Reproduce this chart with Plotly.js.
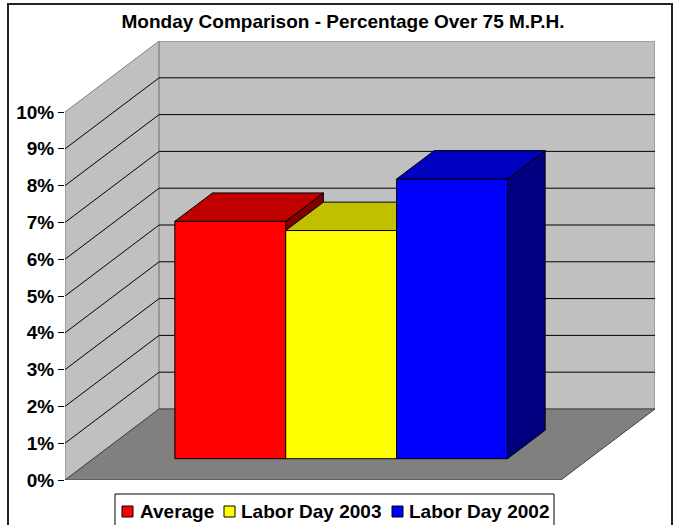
<!DOCTYPE html>
<html>
<head>
<meta charset="utf-8">
<script src="https://cdn.plot.ly/plotly-3.0.1.min.js"></script>
<style>html,body{margin:0;padding:0;background:#fff;}#chart{width:674px;height:525px;}</style>
</head>
<body>
<div id="chart"></div>
<script>
// ---- data ----
var categories = ["Average", "Labor Day 2003", "Labor Day 2002"];
var values = [6.45, 6.2, 7.6];          // percent over 75 mph
var yTicks = [0, 1, 2, 3, 4, 5, 6, 7, 8, 9, 10];
var yTickLabels = ["0%", "1%", "2%", "3%", "4%", "5%", "6%", "7%", "8%", "9%", "10%"];
var frontColors = ["#FF0000", "#FFFF00", "#0000FF"];
var topColors = ["#C00000", "#C0C000", "#0000C0"];
var sideColors = ["#800000", "#808000", "#000080"];

// ---- oblique 3D projection parameters (in axis units) ----
var DX = 0.849;      // x shift for full floor depth
var DY = 1.93;       // y shift (in %) for full floor depth
var GAP = 0.736;     // floor margin beyond bars (category units)
var DF = 0.30, DB = 0.70;   // bar depth span on the floor
var YMAX = 10;
var xL = -0.5 - GAP, xR = (categories.length - 0.5) + GAP;

function P(x, d, v) { return [x + d * DX, v + d * DY]; }
function poly(pts, fill, line, lw) {
  var xs = pts.map(function (p) { return p[0]; });
  var ys = pts.map(function (p) { return p[1]; });
  xs.push(xs[0]); ys.push(ys[0]);
  return { type: "scatter", mode: "lines", x: xs, y: ys, fill: "toself", fillcolor: fill,
    line: { color: line, width: lw }, hoverinfo: "skip", showlegend: false };
}
function seg(a, b, color, w) {
  return { type: "scatter", mode: "lines", x: [a[0], b[0]], y: [a[1], b[1]],
    line: { color: color, width: w }, hoverinfo: "skip", showlegend: false };
}

var traces = [];
// side wall, back wall, floor
traces.push(poly([P(xL, 0, 0), P(xL, 0, YMAX), P(xL, 1, YMAX), P(xL, 1, 0)], "#C0C0C0", "#808080", 1));
traces.push(poly([P(xL, 1, 0), P(xL, 1, YMAX), P(xR, 1, YMAX), P(xR, 1, 0)], "#C0C0C0", "#808080", 1));
traces.push(poly([P(xL, 0, 0), P(xR, 0, 0), P(xR, 1, 0), P(xL, 1, 0)], "#808080", "#404040", 1));
// gridlines
yTicks.forEach(function (v) {
  if (v <= 0 || v >= YMAX) return;
  traces.push(seg(P(xL, 0, v), P(xL, 1, v), "#000000", 1));
  traces.push(seg(P(xL, 1, v), P(xR, 1, v), "#000000", 1));
});
// bars (left to right, painter order)
values.forEach(function (v, i) {
  var a = i - 0.5, b = i + 0.5;
  traces.push(poly([P(b, DF, 0), P(b, DB, 0), P(b, DB, v), P(b, DF, v)], sideColors[i], "#000000", 1));
  traces.push(poly([P(a, DF, v), P(b, DF, v), P(b, DB, v), P(a, DB, v)], topColors[i], "#000000", 1));
  traces.push(poly([P(a, DF, 0), P(b, DF, 0), P(b, DF, v), P(a, DF, v)], frontColors[i], "#000000", 1));
});

// ---- page geometry (pixels) ----
var W = 674, H = 525, ML = 65, MR = 19, MT = 41, MB = 45;
var PW = W - ML - MR, PH = H - MT - MB;
function px2x(px) { return (px - ML) / PW; }
function py2y(py) { return (H - MB - py) / PH; }

var FONT = "Liberation Sans, Arial, sans-serif";
var shapes = [
  { type: "rect", xref: "paper", yref: "paper", x0: px2x(8), x1: px2x(672), y0: py2y(540), y1: py2y(4),
    line: { color: "#222", width: 2 }, fillcolor: "rgba(0,0,0,0)", layer: "below" },
  { type: "rect", xref: "paper", yref: "paper", x0: px2x(115), x1: px2x(554), y0: py2y(540), y1: py2y(494),
    line: { color: "#000", width: 1 }, fillcolor: "#fff", layer: "above" }
];
var annotations = [];
var legendSq = [122, 224, 392];
var legendTx = [139, 240, 408];
categories.forEach(function (c, i) {
  shapes.push({ type: "rect", xref: "paper", yref: "paper", x0: px2x(legendSq[i]), x1: px2x(legendSq[i] + 11),
    y0: py2y(517), y1: py2y(506), line: { color: "#000", width: 1 }, fillcolor: frontColors[i], layer: "above" });
  annotations.push({ text: c, xref: "paper", yref: "paper", x: px2x(legendTx[i]), y: py2y(511.5),
    xanchor: "left", yanchor: "middle", showarrow: false, borderpad: 0,
    font: { family: FONT, size: 19, weight: 700, color: "#000" } });
});

var layout = {
  width: W, height: H, autosize: false,
  margin: { l: ML, r: MR, t: MT, b: MB, pad: 0, autoexpand: false },
  paper_bgcolor: "#FFFFFF", plot_bgcolor: "rgba(0,0,0,0)",
  font: { family: FONT, size: 19, color: "#000" },
  title: { text: "Monday Comparison - Percentage Over 75 M.P.H.", font: { family: FONT, size: 19, weight: 700, color: "#000" },
    x: 0.509, xref: "container", xanchor: "center", y: 1 - 21 / 525, yref: "container", yanchor: "middle" },
  xaxis: { range: [xL, xR + DX], visible: false, fixedrange: true, automargin: false },
  yaxis: { range: [0, YMAX + DY], tickmode: "array", tickvals: yTicks, ticktext: yTickLabels, automargin: false,
    ticks: "outside", ticklen: 6, tickcolor: "#000", tickwidth: 1, showgrid: false, zeroline: false, showline: false,
    tickfont: { family: FONT, size: 19, weight: 700, color: "#000" }, fixedrange: true },
  showlegend: false,
  shapes: shapes,
  annotations: annotations
};
Plotly.newPlot("chart", traces, layout, { displayModeBar: false, staticPlot: true });
</script>
</body>
</html>
